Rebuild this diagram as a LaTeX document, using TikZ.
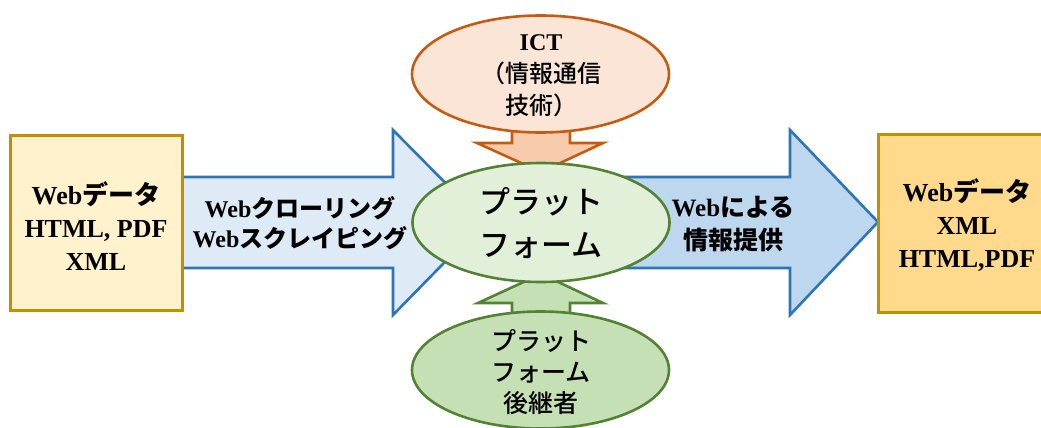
\documentclass[tikz,border=0pt]{standalone}
\usepackage{fontspec}
\setmainfont{Liberation Serif}
\newfontfamily\jp{Noto Sans CJK JP}
\newfontfamily\jpm{Noto Sans CJK JP Medium}
\usetikzlibrary{shapes.geometric}
\definecolor{goldline}{HTML}{BF9000}
\definecolor{lboxfill}{HTML}{FFF2CC}
\definecolor{rboxfill}{HTML}{FFD98C}
\definecolor{blueline}{HTML}{2E75B6}
\definecolor{larrfill}{HTML}{DEEBF7}
\definecolor{rarrfill}{HTML}{BDD7EE}
\definecolor{orline}{HTML}{C55A11}
\definecolor{orfill}{HTML}{FBE5D6}
\definecolor{orarr}{HTML}{F8CBAD}
\definecolor{grline}{HTML}{548235}
\definecolor{grfill}{HTML}{E2F0D9}
\definecolor{grdark}{HTML}{C5E0B4}
\tikzset{
  databox/.style={draw=goldline, line width=3pt, inner sep=0pt},
  blockarrow/.style={draw=blueline, line width=2.6pt, line join=miter},
  ell/.style={ellipse, line width=2.6pt, inner sep=0pt, minimum width=257pt, minimum height=117pt},
  txt/.style={align=center, inner sep=0pt, text=black},
}
\begin{document}
\begin{tikzpicture}[x=1pt,y=-1pt]
\useasboundingbox (0,0) rectangle (1041,428);
% block arrows
\draw[blockarrow, fill=larrfill] (170,177) -- (393,177) -- (393,130) -- (484,222) -- (393,315) -- (393,268) -- (170,268) -- cycle;
\draw[blockarrow, fill=rarrfill] (600,177) -- (790,177) -- (790,130) -- (878,222) -- (790,315) -- (790,268) -- (600,268) -- cycle;
\draw[draw=orline, line width=2.6pt, fill=orarr] (512,110) -- (512,143) -- (477,143) -- (541,172) -- (603,143) -- (570,143) -- (570,110) -- cycle;
\draw[draw=grline, line width=2.6pt, fill=grdark] (512,335) -- (512,303) -- (478,303) -- (541,274) -- (603,303) -- (570,303) -- (570,335) -- cycle;
% boxes
\node[databox, fill=lboxfill, minimum width=172pt, minimum height=175pt] (lbox) at (96,222.5) {};
\node[databox, fill=rboxfill, minimum width=166pt, minimum height=178pt] (rbox) at (961,223) {};
% ellipses
\node[ell, draw=orline, fill=orfill] (ict) at (540.5,74) {};
\node[ell, draw=grline, fill=grfill, minimum height=119pt] (plat) at (541,222.5) {};
\node[ell, draw=grline, fill=grdark] (succ) at (540.5,370) {};
% texts
\node[txt, font={\fontsize{26}{33}\selectfont\bfseries}] (lboxText) at (96,226)
  {Web{\jp データ}\\HTML, PDF\\XML};
\node[txt, font={\fontsize{24}{30}\selectfont\bfseries}] (larrText) at (300,223)
  {Web{\jp クローリング}\\Web{\jp スクレイピング}};
\node[txt, font={\fontsize{31}{43}\selectfont\jpm}] (platText) at (541,223)
  {プラット\\フォーム};
\node[txt, font={\fontsize{24}{32}\selectfont\bfseries}] (ictText) at (541,76)
  {ICT\\{\mdseries\jpm （情報通信}\\{\mdseries\jpm 技術）}};
\node[txt, font={\fontsize{25}{31}\selectfont\jpm}] (succText) at (541,372)
  {プラット\\フォーム\\後継者};
\node[txt, font={\fontsize{25}{33}\selectfont\bfseries}] (rarrText) at (733,224)
  {Web{\jp による}\\{\jp 情報提供}};
\node[txt, font={\fontsize{26}{33}\selectfont\bfseries}] (rboxText) at (967,225)
  {Web{\jp データ}\\XML\\HTML,PDF};
\end{tikzpicture}
\end{document}
